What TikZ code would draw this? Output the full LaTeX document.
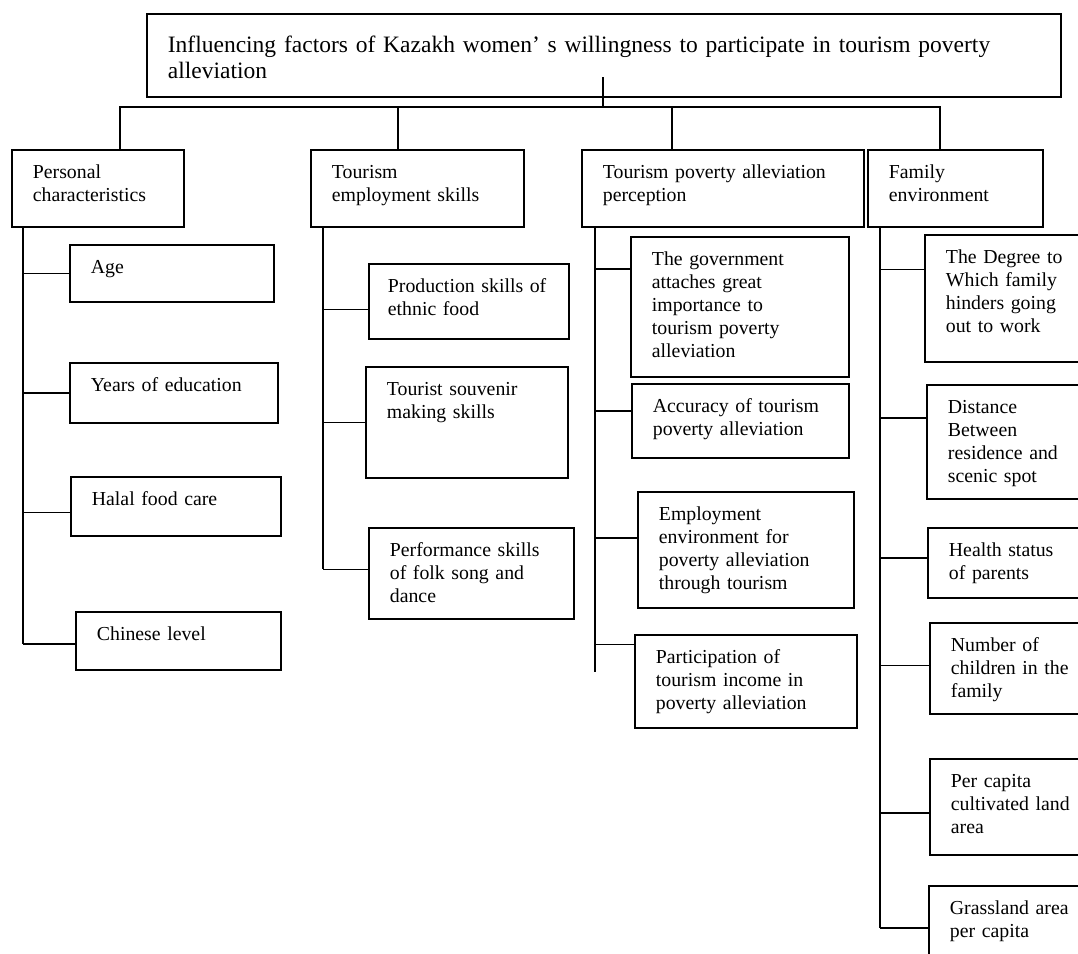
\documentclass[tikz,border=0pt]{standalone}
\usepackage{fontspec}
\setmainfont{Liberation Serif}
\newcommand{\topfont}{\fontsize{23.5}{25.5}\selectfont}
\newcommand{\itemfont}{\fontsize{19.8}{23}\selectfont}
\tikzset{
  box/.style={draw, anchor=north west, align=left, inner xsep=21pt,
    inner ysep=0pt, text height=29pt, font=\itemfont},
}
\begin{document}
\begin{tikzpicture}[x=1pt,y=-1pt,line width=1.8pt]
\useasboundingbox (0,0) rectangle (1078,953);
\clip (0,0) rectangle (1078,953);
\node[box, font=\topfont, text height=39pt, text width=872pt, text depth=44pt] (top) at (146,13)
  {Influencing factors of Kazakh women' s willingness to participate in tourism poverty\\alleviation};
\node[box, text width=130pt, text depth=48pt] (pc) at (11,149) {Personal\\characteristics};
\node[box, text width=171pt, text depth=48pt] (te) at (310,149) {Tourism\\employment skills};
\node[box, text width=240pt, text depth=48pt] (tpa) at (581,149) {Tourism poverty alleviation\\perception};
\node[box, text width=133pt, text depth=48pt] (fe) at (867,149) {Family\\environment};
\node[box, text width=162pt, text depth=28pt] (age) at (69,244) {Age};
\node[box, text width=166pt, text depth=31pt] (yoe) at (69,362) {Years of education};
\node[box, text width=168pt, text depth=30pt] (hfc) at (70,476) {Halal food care};
\node[box, text width=163pt, text depth=29pt] (cl) at (75,611) {Chinese level};
\node[box, inner xsep=19pt, text width=162pt, text depth=46pt] (psef) at (368,263) {Production skills of\\ethnic food};
\node[box, text width=160pt, text depth=82pt] (tsms) at (365,366) {Tourist souvenir\\making skills};
\node[box, text width=163pt, text depth=62pt] (pssd) at (368,527) {Performance skills\\of folk song and\\dance};
\node[box, text width=176pt, text depth=111pt] (gov) at (630,236)
  {The government\\attaches great\\importance to\\tourism poverty\\alleviation};
\node[box, text width=175pt, text depth=45pt] (acc) at (631,383) {Accuracy of tourism\\poverty alleviation};
\node[box, text width=174pt, text depth=87pt] (emp) at (637,491)
  {Employment\\environment for\\poverty alleviation\\through tourism};
\node[box, text width=180pt, text depth=64pt] (par) at (634,634)
  {Participation of\\tourism income in\\poverty alleviation};
\node[box, text width=128pt, text depth=98pt] (deg) at (924,234)
  {The Degree to\\Which family\\hinders going\\out to work};
\node[box, text width=128pt, text depth=85pt] (dist) at (926,384)
  {Distance\\Between\\residence and\\scenic spot};
\node[box, text width=128pt, text depth=41pt] (hs) at (927,527) {Health status\\of parents};
\node[box, text width=128pt, text depth=62pt] (noc) at (929,622) {Number of\\children in the\\family};
\node[box, text width=128pt, text depth=67pt] (pcl) at (929,758) {Per capita\\cultivated land\\area};
\node[box, text width=128pt, text depth=71pt] (gla) at (928,885) {Grassland area\\per capita};
\coordinate (stub) at (603,77);
\coordinate (bus) at (603,107);
\coordinate (pc-top) at (120,149);
\coordinate (te-top) at (398,149);
\coordinate (tpa-top) at (672,149);
\coordinate (fe-top) at (940,149);
\draw (stub) -- (bus);
\draw (pc-top) |- (bus) -| (fe-top);
\draw (te-top) -- (te-top |- bus);
\draw (tpa-top) -- (tpa-top |- bus);
\coordinate (pc-spine) at (23,226);
\coordinate (te-spine) at (323,226);
\coordinate (tpa-spine) at (595,226);
\coordinate (tpa-end) at (595,672);
\coordinate (fe-spine) at (880,226);
\draw (pc-spine) -- ([yshift=-3pt]cl.west -| pc-spine);
\foreach \n/\s in {age/0pt,yoe/0pt,hfc/-6pt,cl/-3pt}
  \draw ([yshift=\s]\n.west) -- ([yshift=\s]\n.west -| pc-spine);
\draw (te-spine) -- ([yshift=4pt]pssd.west -| te-spine);
\foreach \n/\s in {psef/-8pt,tsms/0pt,pssd/4pt}
  \draw ([yshift=\s]\n.west) -- ([yshift=\s]\n.west -| te-spine);
\draw (tpa-spine) -- (tpa-end);
\foreach \n/\s in {gov/38pt,acc/10pt,emp/12pt,par/37pt}
  \draw ([yshift=\s]\n.west) -- ([yshift=\s]\n.west -| tpa-spine);
\draw (fe-spine) -- ([yshift=8pt]gla.west -| fe-spine);
\foreach \n/\s in {deg/29pt,dist/24pt,hs/5pt,noc/3pt,pcl/-6pt,gla/8pt}
  \draw ([yshift=\s]\n.west) -- ([yshift=\s]\n.west -| fe-spine);
\end{tikzpicture}
\end{document}
